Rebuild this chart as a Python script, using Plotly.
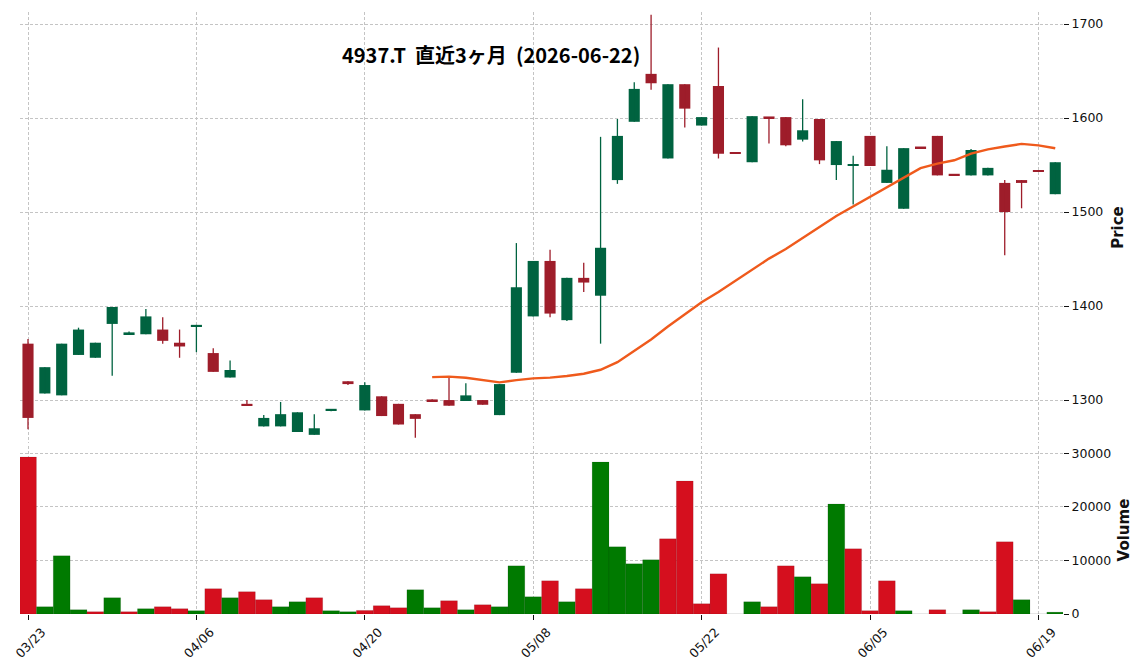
import plotly.graph_objects as go
import pandas as pd

# ---- data ----
dates = ["2026-03-23","2026-03-24","2026-03-25","2026-03-26","2026-03-27","2026-03-30","2026-03-31",
         "2026-04-01","2026-04-02","2026-04-03","2026-04-06","2026-04-07","2026-04-08","2026-04-09","2026-04-10",
         "2026-04-13","2026-04-14","2026-04-15","2026-04-16","2026-04-17","2026-04-20","2026-04-21","2026-04-22",
         "2026-04-23","2026-04-24","2026-04-27","2026-04-28","2026-04-30","2026-05-01","2026-05-07","2026-05-08",
         "2026-05-11","2026-05-12","2026-05-13","2026-05-14","2026-05-15","2026-05-18","2026-05-19","2026-05-20",
         "2026-05-21","2026-05-22","2026-05-25","2026-05-26","2026-05-27","2026-05-28","2026-05-29","2026-06-01",
         "2026-06-02","2026-06-03","2026-06-04","2026-06-05","2026-06-08","2026-06-09","2026-06-10","2026-06-11",
         "2026-06-12","2026-06-15","2026-06-16","2026-06-17","2026-06-18","2026-06-19","2026-06-22"]

open_ = [1360,1307,1305,1348,1345,1381,1370,1370,1375,1361,1378,1350,1324,1296,1272,1272,1266,1263,1289,1320,
         1289,1304,1296,1285,1300,1300,1299,1300,1284,1329,1389,1448,1385,1430,1411,1534,1596,1647,1557,1636,
         1592,1634,1562,1553,1601,1601,1577,1599,1550,1549,1581,1531,1503.5,1568,1581,1539,1539,1539,1531,1534,
         1543,1519]
high = [1365,1335,1360,1377,1361,1399,1373,1397,1388,1375,1380,1355,1342,1300,1284,1298,1287,1285,1290,1320,
        1319,1304,1296,1285,1301,1325,1318,1300,1317,1467,1448,1460,1430,1446,1580,1599,1638,1710,1636,1636,
        1601,1675,1562,1602,1601,1601,1620,1599,1575.5,1560,1581,1570,1568,1568,1581,1539,1567,1547,1534,1534,
        1543,1553]
low = [1269,1307,1305,1348,1345,1326,1370,1370,1360,1345,1351,1330,1324,1294,1272,1272,1266,1263,1288,1316,
       1289,1283,1274,1260,1299,1294,1299,1295,1284,1329,1389,1388,1384,1415,1360,1530,1596,1630,1557,1590,
       1592,1557,1562,1553,1573,1570,1575,1551,1534,1508,1549,1531,1503.5,1568,1539,1539,1539,1539,1454,1504,
       1543,1519]
close = [1281,1335,1360,1375,1361,1399,1372,1389,1363,1357,1380,1330,1332,1294,1281,1285,1287,1270,1290,1317,
         1316,1283,1274,1280,1299,1294,1305,1295,1317,1420,1448,1392,1430,1425,1462,1581,1631,1637,1636,1610,
         1601,1562,1562,1602,1600,1571,1587,1555,1575.5,1550,1549,1545,1568,1568,1539,1539,1566,1547,1500,1531,
         1543,1553]
volume = [29300,1360,10860,800,430,3040,430,990,1360,990,620,4720,3040,4160,2670,1360,2290,3040,620,430,
          670,1550,1170,4530,1170,2480,800,1730,1360,8990,3220,6200,2290,4720,28360,12530,9370,10110,14020,24820,
          1920,7500,0,2290,1360,8990,6950,5650,20540,12160,620,6200,620,0,800,0,800,430,13470,2670,
          0,350]

tick_dates = dates[::10]
tick_labels = [d[5:7] + "/" + d[8:10] for d in tick_dates]
ma_window = 25
title_text = "4937.T\u00a0\u00a0直近3ヶ月\u00a0\u00a0(2026-06-22)"

# ---- styles ----
C_UP = "#006340"
C_DN = "#9e1d2a"
V_UP = "#007a00"
V_DN = "#d50f1e"
C_MA = "#ef5a1c"
GRID = "#c4c4c4"
TICK_FONT = dict(family="DejaVu Sans", size=12.5, color="#111")
AX_TITLE_FONT = dict(family="DejaVu Sans", size=15, color="#111")

n = len(dates)
ma = pd.Series(close).rolling(ma_window).mean()

body_base = [min(o, c) for o, c in zip(open_, close)]
body_h = [max(abs(c - o), 1.7) for o, c in zip(open_, close)]
body_col = [C_UP if c > o else C_DN for o, c in zip(open_, close)]

vol_col = []
for i in range(n):
    prev = close[i - 1] if i > 0 else open_[i]
    vol_col.append(V_UP if close[i] > prev else V_DN)

fig = go.Figure()

# wicks
for col, cond in ((C_UP, lambda o, c: c > o), (C_DN, lambda o, c: not c > o)):
    wx, wy = [], []
    for i in range(n):
        if cond(open_[i], close[i]) and high[i] > low[i]:
            wx += [dates[i], dates[i], None]
            wy += [low[i], high[i], None]
    fig.add_trace(go.Scatter(x=wx, y=wy, mode="lines", line=dict(color=col, width=1.3),
                             hoverinfo="skip", showlegend=False, xaxis="x", yaxis="y"))

# bodies
fig.add_trace(go.Bar(x=dates, y=body_h, base=body_base, width=0.66,
                     marker=dict(color=body_col, line=dict(width=0)),
                     showlegend=False, xaxis="x", yaxis="y"))

# moving average
fig.add_trace(go.Scatter(x=dates, y=ma, mode="lines", line=dict(color=C_MA, width=2.4),
                         showlegend=False, xaxis="x", yaxis="y"))

# volume
fig.add_trace(go.Bar(x=dates, y=volume, width=1.0,
                     marker=dict(color=vol_col, line=dict(width=0.4, color="rgba(0,0,0,0.25)")),
                     showlegend=False, xaxis="x", yaxis="y2"))

fig.update_layout(
    width=1144, height=670,
    margin=dict(l=20, r=81, t=12, b=56, autoexpand=False),
    paper_bgcolor="white", plot_bgcolor="white",
    barmode="overlay",
    font=dict(family="DejaVu Sans", size=12, color="#111"),
    xaxis=dict(
        type="category", categoryorder="array", categoryarray=dates,
        domain=[0, 1], anchor="y2", automargin=False,
        range=[-0.475, n - 1 + 0.46],
        tickmode="array", tickvals=tick_dates, ticktext=tick_labels,
        tickangle=-45, ticklabelshift=14,
        ticks="outside", ticklen=5, tickwidth=1.3, tickcolor="#111",
        tickfont=TICK_FONT,
        showgrid=True, gridcolor=GRID, gridwidth=0.8, griddash="3px,2px",
        showline=False, zeroline=False,
    ),
    yaxis=dict(
        domain=[0.284, 1], anchor="x", side="right", automargin=False,
        range=[1254.3, 1712.8], dtick=100, tick0=1300,
        ticks="outside", ticklen=5, tickwidth=1.3, tickcolor="#111",
        tickfont=TICK_FONT,
        showgrid=True, gridcolor=GRID, gridwidth=0.8, griddash="3px,2px",
        showline=False, zeroline=False,
        title=dict(text="<b>Price</b>", font=AX_TITLE_FONT, standoff=10),
    ),
    yaxis2=dict(
        domain=[0, 0.279], anchor="x", side="right", automargin=False,
        range=[0, 31340], dtick=10000, tick0=0, tickformat="d",
        ticks="outside", ticklen=5, tickwidth=1.3, tickcolor="#111",
        tickfont=TICK_FONT,
        showgrid=True, gridcolor=GRID, gridwidth=0.8, griddash="3px,2px",
        showline=False, zeroline=False,
        title=dict(text="<b>Volume</b>", font=AX_TITLE_FONT, standoff=8),
    ),
    annotations=[dict(
        text="<b>" + title_text + "</b>", xref="paper", yref="paper",
        x=0.4516, y=0.9286, xanchor="center", yanchor="middle", showarrow=False,
        font=dict(family="Noto Sans CJK JP", size=20, color="#000"),
    )],
)

fig.write_html("out.html")
